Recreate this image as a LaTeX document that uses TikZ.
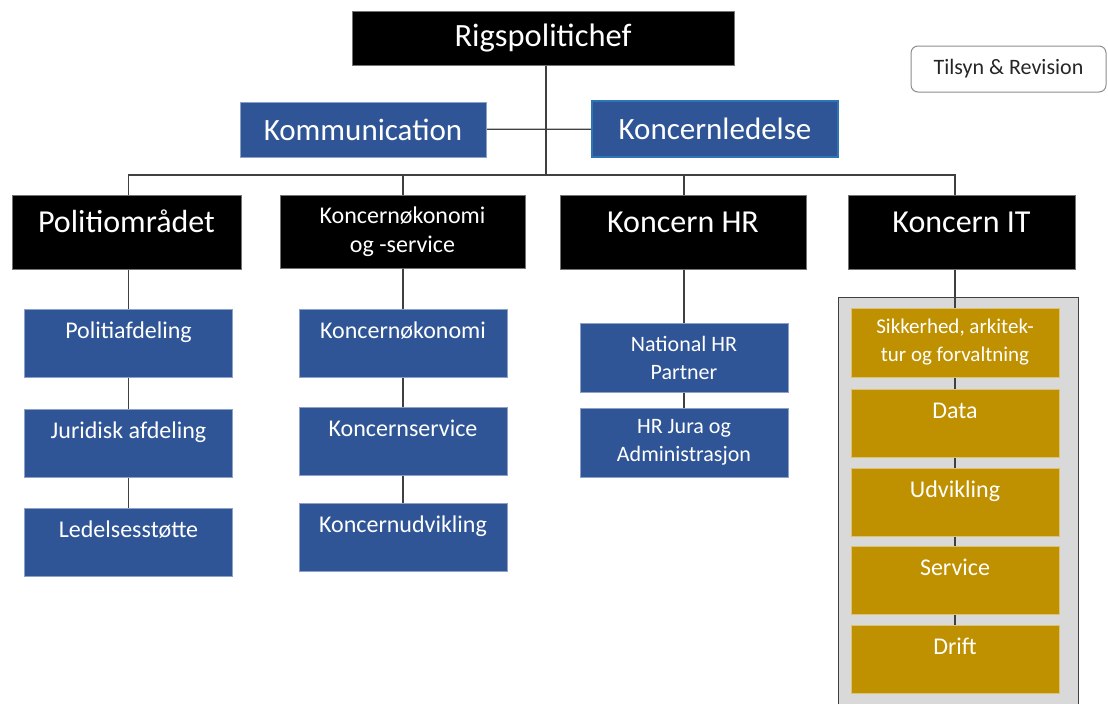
\documentclass[tikz,border=0pt]{standalone}
\usepackage{fontspec}
\setmainfont{Carlito}
\usetikzlibrary{positioning,backgrounds}
\definecolor{polblue}{HTML}{2F5597}
\definecolor{klborder}{HTML}{2E75B6}
\definecolor{itgold}{HTML}{BF9000}
\definecolor{boxgray}{HTML}{D9D9D9}
\definecolor{linegray}{HTML}{404040}
\definecolor{tgray}{HTML}{8C8C8C}
\definecolor{txtdark}{HTML}{262626}
\newcommand\setfs[2]{\fontsize{#1}{#2}\selectfont}
\begin{document}
\begin{tikzpicture}[x=1pt,y=-1pt,
		conn/.style={draw=linegray, line width=1.3pt},
		box/.style={inner sep=0pt, outer sep=0pt, text=white, align=center},
		blackbox/.style={box, fill=black, draw=black!55, line width=0.8pt},
		bluebox/.style={box, fill=polblue, draw=polblue!55!white, line width=0.6pt},
		goldbox/.style={box, fill=itgold, draw=itgold!55!white, line width=0.6pt},
		headcell/.style={minimum width=#1, text height=37pt, text depth=37pt},
		cell/.style={minimum width=208pt, text height=29pt, text depth=39pt},
		dcell/.style={minimum width=208pt, minimum height=69pt}]
		\useasboundingbox (0,0) rectangle (1108,704);
		
		% top
		\node[blackbox, minimum width=382pt, minimum height=54pt,
		font=\setfs{32.5}{39}] (rp) at (543,38) {Rigspolitichef};
		\node[draw=tgray, rounded corners=7pt, line width=1pt, text=txtdark,
		minimum width=195pt, minimum height=46pt,
		font=\setfs{22}{26}] (tr) at (1008.5,69) {Tilsyn \& Revision};
		\node[bluebox, minimum width=246pt, minimum height=55pt,
		font=\setfs{31}{37}] (kom) at (363,129.5) {Kommunication};
		\node[bluebox, draw=klborder, line width=1.5pt, minimum width=246pt,
		minimum height=56pt, font=\setfs{31}{37}] (kl) at (715,129) {Koncernledelse};
		
		% level 2
		\node[blackbox, headcell=229pt, anchor=north,
		font=\setfs{32}{38}] (po) at (126.5,195) {Politiområdet};
		\node[blackbox, minimum width=245pt, minimum height=73pt,
		font=\setfs{24}{29}] (ko) at (402.5,231.5) {Koncernøkonomi\\og -service};
		\node[blackbox, headcell=246pt, anchor=north,
		font=\setfs{32}{38}] (hr) at (683,195) {Koncern HR};
		\node[blackbox, headcell=227pt, anchor=north,
		font=\setfs{32}{38}] (it) at (961.5,195) {Koncern IT};
		
		% Politiområdet
		\node[bluebox, cell, anchor=north, font=\setfs{24}{29}] (pa) at (128.5,309) {Politiafdeling};
		\node[bluebox, cell, below=32pt of pa, font=\setfs{24}{29}] (pj) {Juridisk afdeling};
		\node[bluebox, cell, below=31pt of pj, font=\setfs{24}{29}] (pl) {Ledelsesstøtte};
		
		% Koncernøkonomi
		\node[bluebox, cell, anchor=north, font=\setfs{24}{29}] (k1) at (403,309) {Koncernøkonomi};
		\node[bluebox, cell, below=30pt of k1, font=\setfs{24}{29}] (k2) {Koncernservice};
		\node[bluebox, cell, below=28pt of k2, font=\setfs{24}{29}] (k3) {Koncernudvikling};
		
		% HR
		\node[bluebox, dcell, anchor=north, font=\setfs{22}{28}] (h1) at (684,323) {National HR\\Partner};
		\node[bluebox, dcell, below=16pt of h1, font=\setfs{22}{28}] (h2) {HR Jura og\\Administrasjon};
		
		% IT
		\node[goldbox, dcell, anchor=north, font=\setfs{21}{28}] (s1) at (955,308) {Sikkerhed, arkitek-\\tur og forvaltning};
		\node[goldbox, cell, below=12pt of s1, font=\setfs{24}{29}] (s2) {Data};
		\node[goldbox, cell, below=11pt of s2, font=\setfs{24}{29}] (s3) {Udvikling};
		\node[goldbox, cell, below=10pt of s3, font=\setfs{24}{29}] (s4) {Service};
		\node[goldbox, cell, below=11pt of s4, font=\setfs{24}{29}] (s5) {Drift};
		
		\begin{pgfonlayer}{background}
			% IT frame
			\fill[boxgray] (838,297) rectangle (1078,704);
			\draw[draw=linegray, line width=1pt] (838,704) -- (838,297) -- (1078,297) -- (1078,704);
			
			% lines
			\coordinate (bus) at (546,175);
			\draw[conn] (rp.south -| bus) -- (bus);
			\draw[conn] (kom) -- (kl);
			\draw[conn] (pa |- po.north) |- (bus) -| (s1 |- it.north);
			\draw[conn] (k1 |- ko.north) -- (k1 |- bus);
			\draw[conn] (h1 |- hr.north) -- (h1 |- bus);
			\draw[conn] (pa |- po.south) -- (pl);
			\draw[conn] (k1 |- ko.south) -- (k3);
			\draw[conn] (h1 |- hr.south) -- (h2);
			\draw[conn] (s1 |- it.south) -- (s5);
		\end{pgfonlayer}
	\end{tikzpicture}
\end{document}
